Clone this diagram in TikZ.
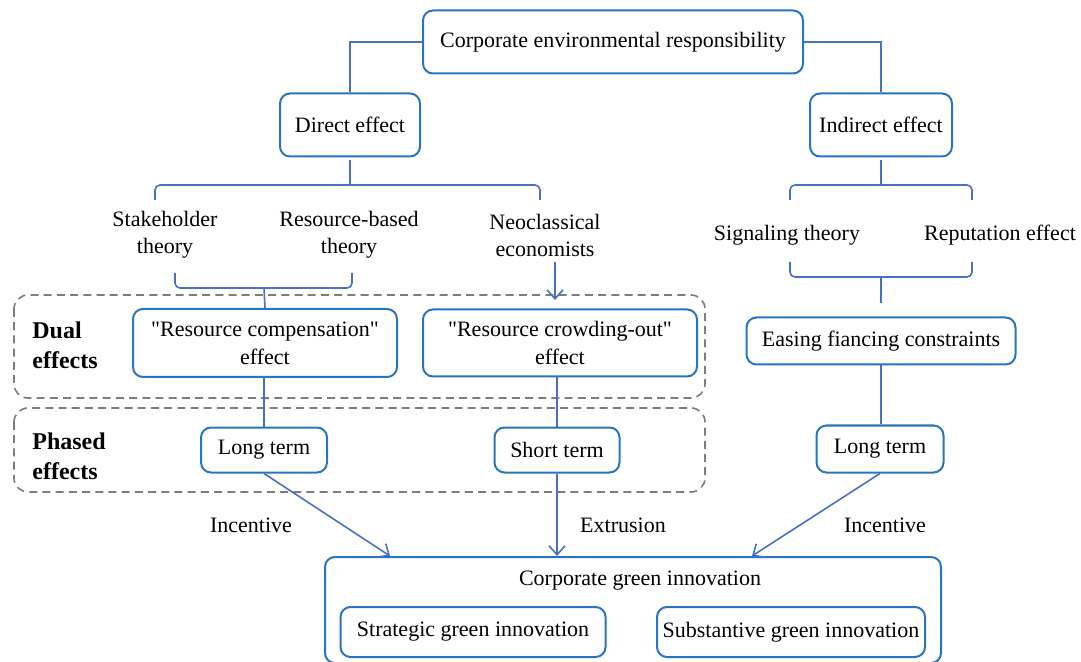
\documentclass[tikz,border=0pt]{standalone}
\usepackage{fontspec}
\setmainfont{Liberation Serif}
\usetikzlibrary{arrows.meta}

\definecolor{boxblue}{RGB}{40,116,190}
\definecolor{linkblue}{RGB}{72,112,196}
\definecolor{dashgray}{RGB}{125,125,125}

\tikzset{
  blk/.style={draw=boxblue, line width=1pt, rounded corners=5pt, align=center,
    inner sep=2pt, font=\rmfamily\fontsize{11}{14}\selectfont},
  plain/.style={align=center, inner sep=0pt, font=\rmfamily\fontsize{11}{13.5}\selectfont},
  side/.style={align=left, anchor=west, inner sep=0pt, font=\rmfamily\fontsize{12}{15}\selectfont\bfseries},
  conn/.style={draw=linkblue, line width=0.8pt},
  brace/.style={conn, rounded corners=2.5pt},
  arr/.style={conn, -{Straight Barb[length=4.5pt,width=8pt,line width=0.8pt]}},
  dashbox/.style={draw=dashgray, line width=0.8pt, dash pattern=on 4pt off 2.6pt, rounded corners=7pt}
}

\begin{document}
\begin{tikzpicture}[x=0.5pt,y=-0.5pt]
\useasboundingbox (0,0) rectangle (1081,662);

% phase frames
\draw[dashbox] (14,295) rectangle (705,398);
\draw[dashbox] (14,408) rectangle (705,492);
\node[side] (dual) at (32,345) {Dual\\effects};
\node[side] (phased) at (32,456) {Phased\\effects};

% nodes
\node[blk, minimum width=190pt, minimum height=31.5pt] (cer) at (613,42) {Corporate environmental responsibility};
\node[blk, minimum width=70pt, minimum height=31.5pt] (dir) at (350,125) {Direct effect};
\node[blk, minimum width=71pt, minimum height=31.5pt] (ind) at (881,125) {Indirect effect};

\node[plain] (stake) at (165,235) {Stakeholder\\theory};
\node[plain] (rbt) at (349,235) {Resource-based\\theory};
\node[plain] (neo) at (545,235) {Neoclassical\\economists};
\node[plain] (sig) at (787,235) {Signaling theory};
\node[plain] (rep) at (1000,235) {Reputation effect};

\node[blk, minimum width=132pt, minimum height=34pt] (comp) at (265,343) {\textquotedbl Resource compensation\textquotedbl\\effect};
\node[blk, minimum width=137pt, minimum height=33.5pt] (crowd) at (560,343) {\textquotedbl Resource crowding-out\textquotedbl\\effect};
\node[blk, minimum width=134.5pt, minimum height=23.5pt] (ease) at (881,341) {Easing fiancing constraints};

\node[blk, minimum width=63pt, minimum height=22.5pt] (longA) at (264,450) {Long term};
\node[blk, minimum width=62.5pt, minimum height=22.5pt] (short) at (557,450) {Short term};
\node[blk, minimum width=63.5pt, minimum height=23.5pt] (longB) at (880,449) {Long term};

\node[blk, minimum width=308pt, minimum height=53pt] (cgi) at (633,610) {};
\node[plain] (cgitext) at (640,581) {Corporate green innovation};
\node[blk, minimum width=132.5pt, minimum height=25pt] (strat) at (473,632) {Strategic green innovation};
\node[blk, minimum width=134pt, minimum height=25pt] (subst) at (791,632) {Substantive green innovation};

% brace points
\coordinate (dirL) at (155,200);
\coordinate (dirM) at (350,185);
\coordinate (dirR) at (540,200);
\coordinate (resL) at (175,273);
\coordinate (resM) at (264,288);
\coordinate (resR) at (352,273);
\coordinate (indL) at (790,200);
\coordinate (indM) at (881,185);
\coordinate (indR) at (972,200);
\coordinate (sigL) at (790,262);
\coordinate (sigM) at (881,277);
\coordinate (sigR) at (972,262);
\coordinate (sigE) at (881,303);
\coordinate (neoS) at (555,262);
\coordinate (neoE) at (555,300);
\coordinate (inA) at (390,556);
\coordinate (inB) at (557,556);
\coordinate (inC) at (752,556);

% connectors
\draw[conn] (cer.west) -| (dir.north);
\draw[conn] (cer.east) -| (ind.north);

\draw[brace] (dirL) -- (dirL |- dirM) -- (dirR |- dirM) -- (dirR);
\draw[conn] (dir.south) ++(0,3) -- (dirM);
\draw[brace] (indL) -- (indL |- indM) -- (indR |- indM) -- (indR);
\draw[conn] (ind.south) ++(0,3) -- (indM);

\draw[brace] (resL) -- (resL |- resM) -- (resR |- resM) -- (resR);
\draw[conn] (resM) -- (comp.north);
\draw[brace] (sigL) -- (sigL |- sigM) -- (sigR |- sigM) -- (sigR);
\draw[conn] (sigM) -- (sigE);
\draw[arr] (neoS) -- (neoE);

\draw[conn] (comp.south -| longA.north) -- (longA.north);
\draw[conn] (crowd.south -| short.north) -- (short.north);
\draw[conn] (ease.south) -- (ease.south |- longB.north);

\draw[arr] (longA.south) -- (inA);
\draw[arr] (short.south) -- (inB);
\draw[arr] (longB.south) -- (inC);
\node[plain] (incA) at (251,525) {Incentive};
\node[plain] (ext) at (623,525) {Extrusion};
\node[plain] (incB) at (885,525) {Incentive};

\end{tikzpicture}
\end{document}
